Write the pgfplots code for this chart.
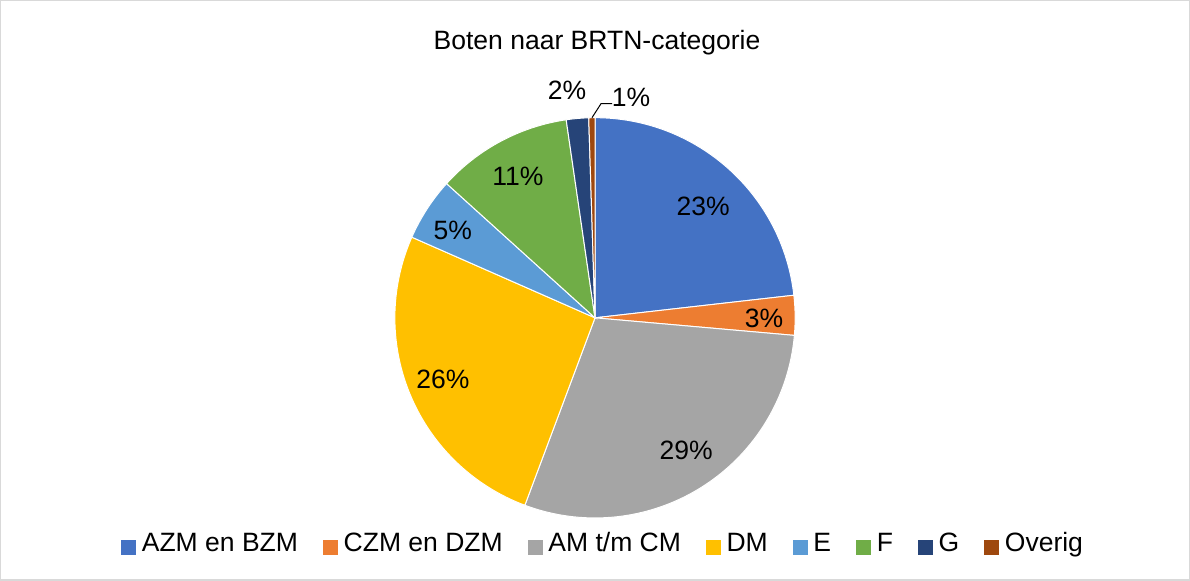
\documentclass[border=0pt]{standalone}
\usepackage{pgfplots}
\usepackage{pgfplotstable}
\usepackage{fontspec}
\setmainfont{Liberation Sans}
\pgfplotsset{compat=1.18}
\definecolor{c1}{HTML}{4472C4}
\definecolor{c2}{HTML}{ED7D31}
\definecolor{c3}{HTML}{A5A5A5}
\definecolor{c4}{HTML}{FFC000}
\definecolor{c5}{HTML}{5B9BD5}
\definecolor{c6}{HTML}{70AD47}
\definecolor{c7}{HTML}{264478}
\definecolor{c8}{HTML}{9E480E}
\definecolor{frame}{HTML}{D9D9D9}
% value = share in percent, lab = printed label, lx/ly = label position (px from left/top)
\pgfplotstableread{
value col lab lx ly
23.2 c1 23 703 207
3.2  c2 3  764 319
29.3 c3 29 686 450
25.9 c4 26 443 380
5.1  c5 5  453 231
11.0 c6 11 518 177
1.8  c7 2  567 91
0.5  c8 1  631 98
}\piedata
\newcommand{\fs}{\fontsize{13.25}{15.9}\selectfont}
\begin{document}
\begin{tikzpicture}
\begin{axis}[
  scale only axis, width=595pt, height=290.5pt,
  xmin=0, xmax=1190, ymin=0, ymax=581,
  hide axis, clip=false,
  legend columns=-1,
  legend image code/.code={\fill[#1] (0pt,-3.5pt) rectangle (7pt,3.5pt);},
  legend style={at={(axis cs:604,34)}, anchor=center, draw=none, fill=none,
    font=\fs, inner sep=0pt,
    nodes={text depth=0.3em, text height=0.75em},
    /tikz/every odd column/.append style={column sep=1pt},
    /tikz/every even column/.append style={column sep=10.4pt}},
]
\draw[frame, line width=0.6pt] (axis cs:1,1) rectangle (axis cs:1189,580);
\node[font=\fs] at (axis cs:597,538) {Boten naar BRTN-categorie};
\def\sa{90}
\pgfplotsforeachungrouped \i in {0,...,7}{%
  \pgfplotstablegetelem{\i}{value}\of\piedata \let\v\pgfplotsretval
  \pgfplotstablegetelem{\i}{col}\of\piedata \let\c\pgfplotsretval
  \pgfmathsetmacro\ea{\sa-3.6*\v}%
  \pgfmathsetmacro\px{595+200*cos(\sa)}%
  \pgfmathsetmacro\py{263+200*sin(\sa)}%
  \edef\temp{\noexpand\fill[fill=\c,draw=white,line width=0.5pt] (axis cs:595,263) -- (axis cs:\px,\py) arc[start angle=\sa,end angle=\ea,radius=100pt] -- cycle;}%
  \temp
  \global\let\sa\ea
}
\pgfplotsforeachungrouped \i in {0,...,7}{%
  \pgfplotstablegetelem{\i}{lab}\of\piedata \let\lab\pgfplotsretval
  \pgfplotstablegetelem{\i}{lx}\of\piedata \let\lx\pgfplotsretval
  \pgfplotstablegetelem{\i}{ly}\of\piedata \pgfmathsetmacro\ly{581-\pgfplotsretval}%
  \edef\temp{\noexpand\node[font=\noexpand\fs] at (axis cs:\lx,\ly) {\lab\noexpand\%};}%
  \temp
}
\draw[black, line width=0.5pt] (axis cs:592,463) -- (axis cs:601,477) -- (axis cs:612,477);
\addlegendimage{c1}\addlegendentry{AZM en BZM}
\addlegendimage{c2}\addlegendentry{CZM en DZM}
\addlegendimage{c3}\addlegendentry{AM t/m CM}
\addlegendimage{c4}\addlegendentry{DM}
\addlegendimage{c5}\addlegendentry{E}
\addlegendimage{c6}\addlegendentry{F}
\addlegendimage{c7}\addlegendentry{G}
\addlegendimage{c8}\addlegendentry{Overig}
\end{axis}
\end{tikzpicture}
\end{document}
